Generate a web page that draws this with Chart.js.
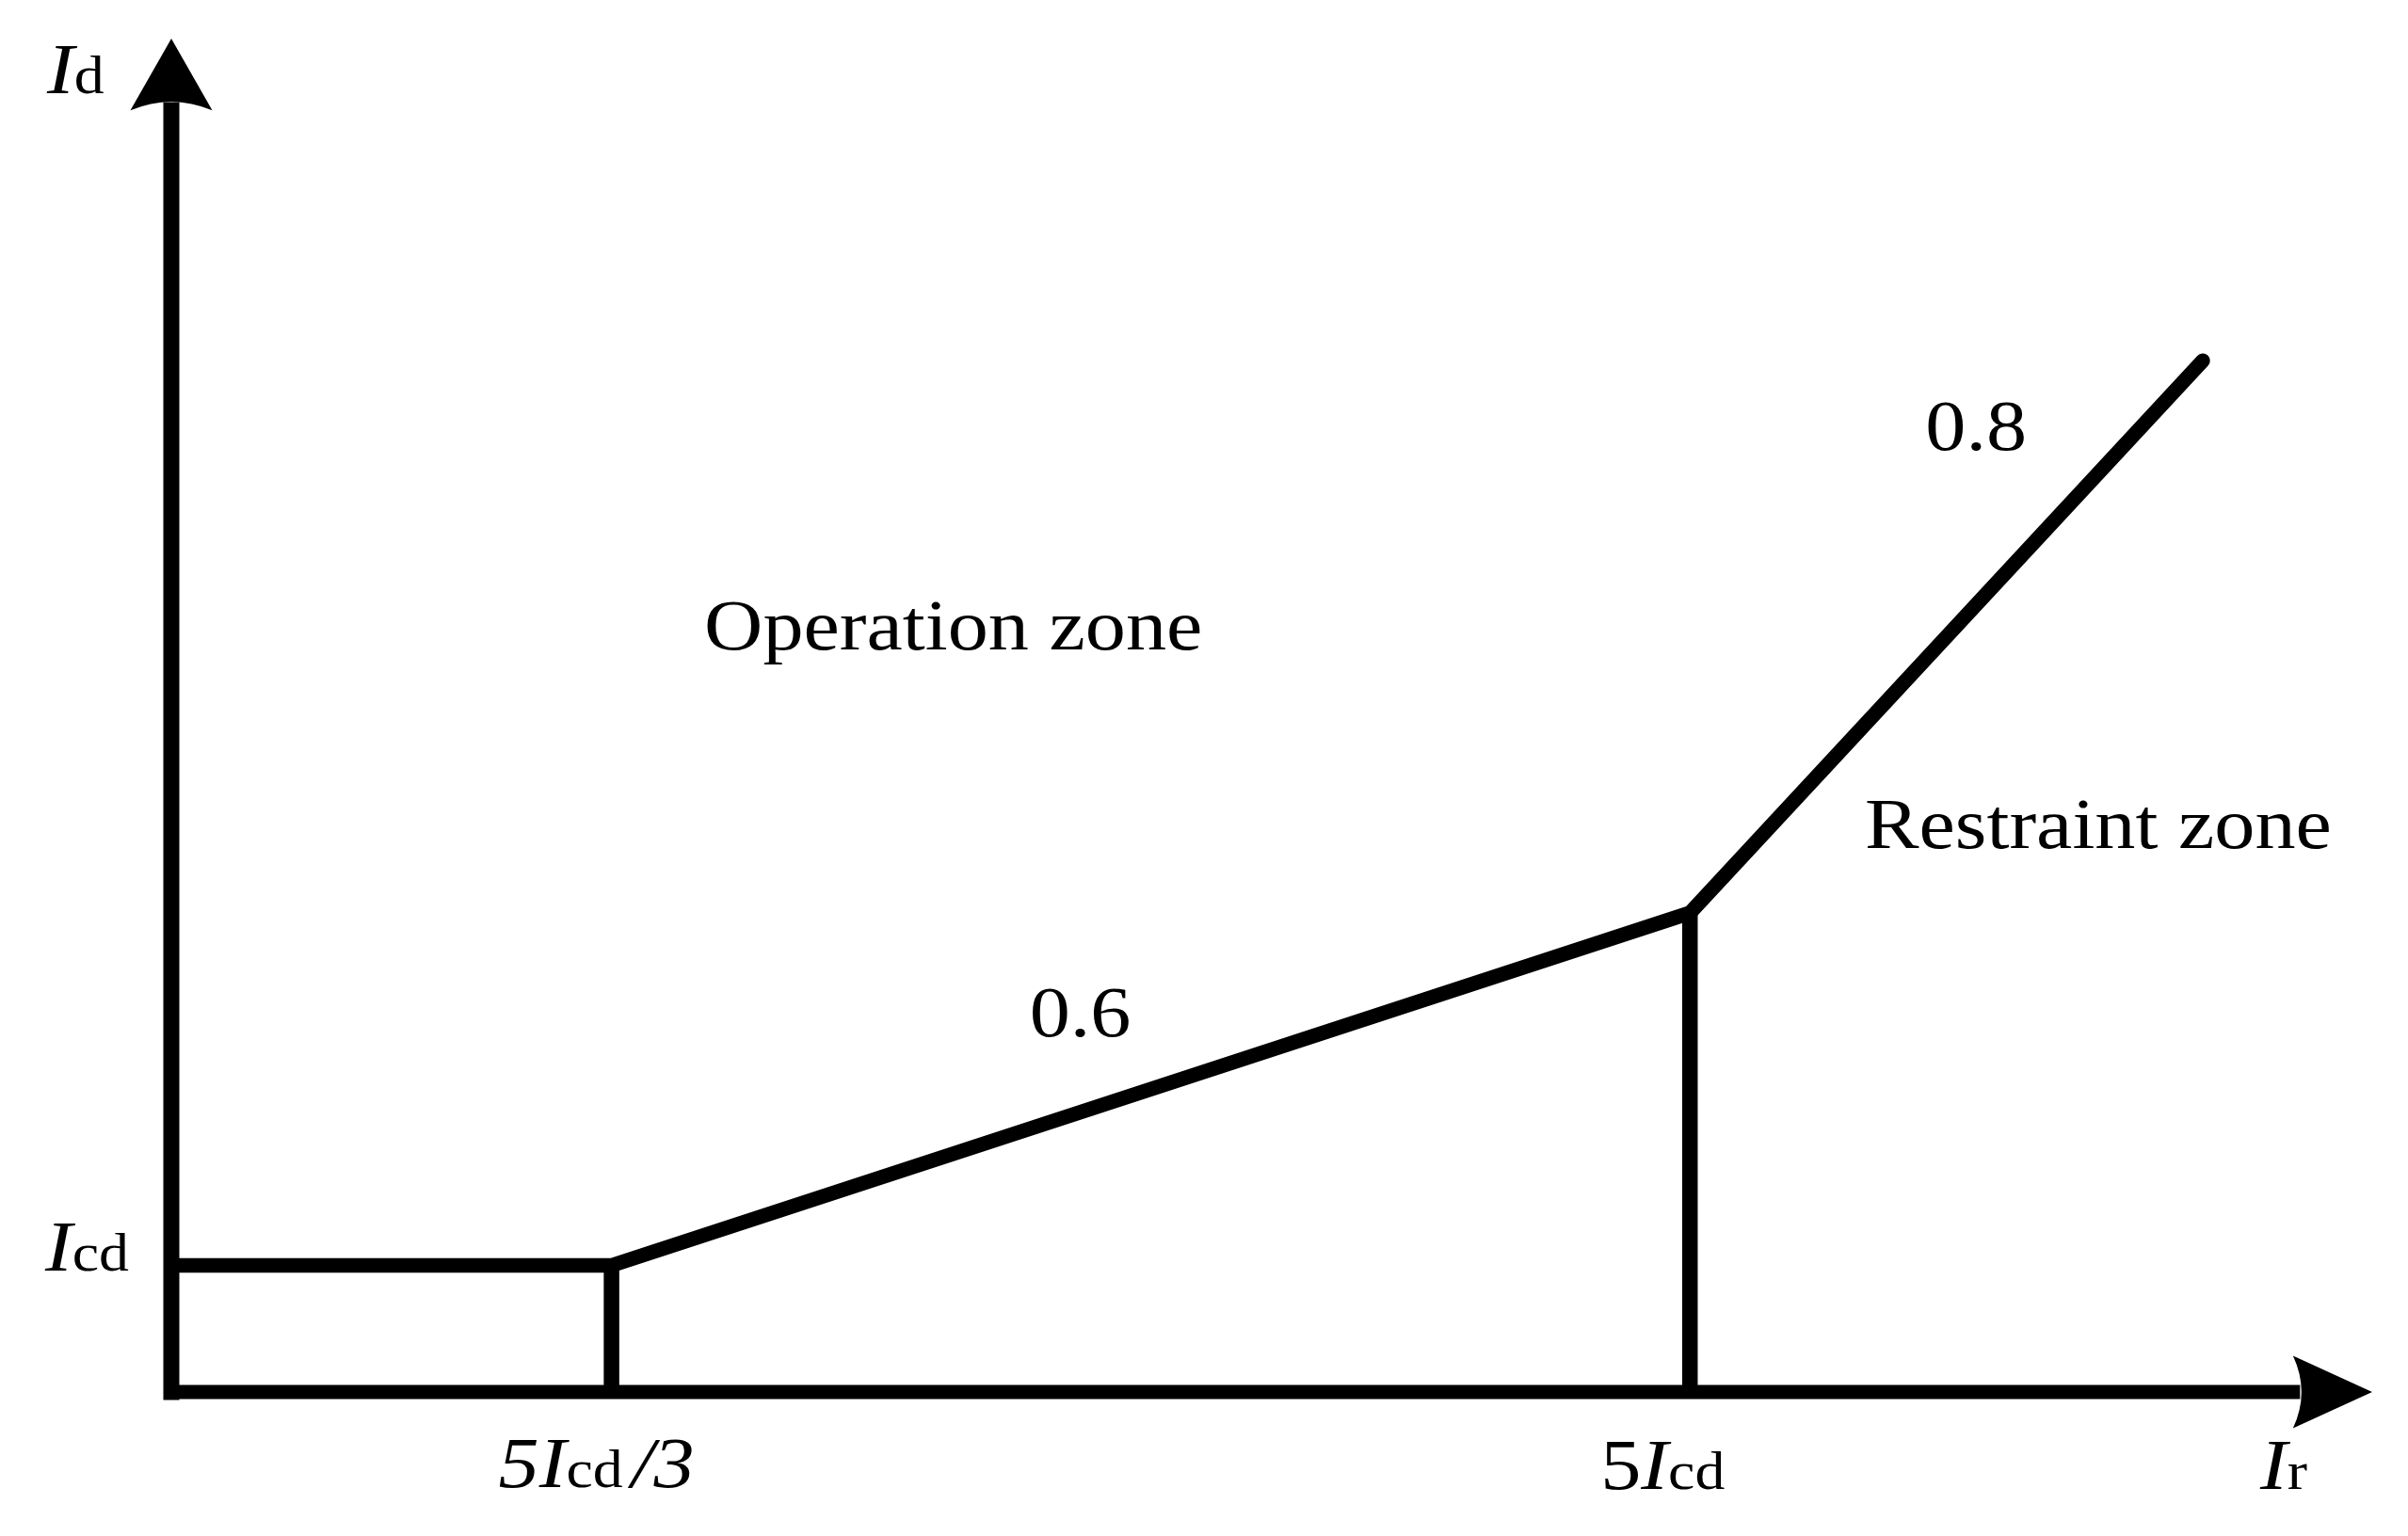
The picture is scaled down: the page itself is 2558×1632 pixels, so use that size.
<!DOCTYPE html>
<html><head><meta charset="utf-8">
<script src="https://cdn.jsdelivr.net/npm/chart.js@4/dist/chart.umd.min.js"></script>
<style>html,body{margin:0;padding:0;background:#fff;overflow:hidden}canvas{display:block}</style>
</head><body>
<canvas id="c" width="2558" height="1632" style="width:2558px;height:1632px"></canvas>
<script>
// ---- data (schematic axis units: 0 = origin, 100 = arrow tip) ----
const charX = [0, 20, 69, 92.3];          // characteristic break points (Ir)
const charY = [9.35, 9.35, 35.4, 76.2];   // characteristic values (Id)
const dropX = [20, 69];                   // vertical drop lines at 5Icd/3 and 5Icd
const dropY = [9.35, 35.4];
const axisMax = 100;
const xShaftEnd = 96.4;
const yShaftEnd = 94.7;
const slopeLabels = ['0.6', '0.8'];
const zoneLabels = ['Operation zone', 'Restraint zone'];
const xTickLabels = ['5Icd/3', '5Icd'];
const yTickLabels = ['Icd'];
const axisTitles = ['Ir', 'Id'];

const FONT = '"Liberation Serif", "Times New Roman", serif';
const BIG = 77, SUB = 57, STRETCH = 1.12;

function pts(xs, ys) { return xs.map((x, i) => ({ x: x, y: ys[i] })); }

function drawRuns(ctx, runs, x, y) {
  ctx.save();
  ctx.translate(x, y);
  ctx.scale(STRETCH, 1);
  ctx.fillStyle = '#000';
  ctx.textBaseline = 'alphabetic';
  ctx.textAlign = 'left';
  let cx = 0;
  runs.forEach(r => {
    ctx.font = (r.i ? 'italic ' : '') + r.s + 'px ' + FONT;
    ctx.fillText(r.t, cx, 0);
    cx += ctx.measureText(r.t).width + (r.gap || 0);
  });
  ctx.restore();
}

function drawCentered(ctx, text, x, y) {
  ctx.save();
  ctx.translate(x, y);
  ctx.scale(STRETCH, 1);
  ctx.fillStyle = '#000';
  ctx.textBaseline = 'alphabetic';
  ctx.textAlign = 'center';
  ctx.font = BIG + 'px ' + FONT;
  ctx.fillText(text, 0, 0);
  ctx.restore();
}

const arrowPlugin = {
  id: 'arrows',
  afterDatasetsDraw(chart) {
    const ctx = chart.ctx, xs = chart.scales.x, ys = chart.scales.y;
    const x0 = xs.getPixelForValue(0), y0 = ys.getPixelForValue(0);
    ctx.save();
    ctx.fillStyle = '#000';
    const yt = ys.getPixelForValue(axisMax), yb = ys.getPixelForValue(yShaftEnd);
    ctx.beginPath();
    ctx.moveTo(x0, yt);
    ctx.lineTo(x0 + 43.5, yb);
    ctx.quadraticCurveTo(x0, yb - 18, x0 - 43.5, yb);
    ctx.closePath();
    ctx.fill();
    const xt = xs.getPixelForValue(axisMax), xb = xs.getPixelForValue(xShaftEnd);
    ctx.beginPath();
    ctx.moveTo(xt, y0);
    ctx.lineTo(xb, y0 + 38.5);
    ctx.quadraticCurveTo(xb + 18, y0, xb, y0 - 38.5);
    ctx.closePath();
    ctx.fill();
    ctx.restore();
  }
};

const textPlugin = {
  id: 'texts',
  afterDraw(chart) {
    const ctx = chart.ctx, xs = chart.scales.x, ys = chart.scales.y;
    const px = v => xs.getPixelForValue(v), py = v => ys.getPixelForValue(v);
    drawRuns(ctx, [{ t: axisTitles[1][0], i: true, s: BIG }, { t: axisTitles[1].slice(1), s: SUB }], px(0) - 132, py(axisMax) + 58);
    drawRuns(ctx, [{ t: axisTitles[0][0], i: true, s: BIG }, { t: axisTitles[0].slice(1), s: SUB }], px(axisMax) - 119, py(0) + 103);
    drawRuns(ctx, [{ t: yTickLabels[0][0], i: true, s: BIG }, { t: yTickLabels[0].slice(1), s: SUB }], px(0) - 134, py(charY[0]) + 5);
    drawRuns(ctx, [{ t: '5', i: true, s: BIG }, { t: 'I', i: true, s: BIG }, { t: 'cd', s: SUB, gap: 8 }, { t: '/3', i: true, s: BIG }], px(dropX[0]) - 120, py(0) + 101);
    drawRuns(ctx, [{ t: '5', s: BIG }, { t: 'I', i: true, s: BIG }, { t: 'cd', s: SUB }], px(dropX[1]) - 95, py(0) + 103);
    drawCentered(ctx, zoneLabels[0], px(35.53), py(54.87));
    drawCentered(ctx, zoneLabels[1], px(87.55), py(40.19));
    drawCentered(ctx, slopeLabels[0], px(41.3), py(26.29));
    drawCentered(ctx, slopeLabels[1], px(82.0), py(69.61));
  }
};

new Chart(document.getElementById('c'), {
  type: 'line',
  data: {
    datasets: [
      { data: [{ x: 0, y: 0 }, { x: 0, y: yShaftEnd }], borderColor: '#000', borderWidth: 17, borderCapStyle: 'square' },
      { data: [{ x: 0, y: 0 }, { x: xShaftEnd, y: 0 }], borderColor: '#000', borderWidth: 15, borderCapStyle: 'square' },
      { data: [{ x: dropX[0], y: 0 }, { x: dropX[0], y: dropY[0] }], borderColor: '#000', borderWidth: 16.5 },
      { data: [{ x: dropX[1], y: 0 }, { x: dropX[1], y: dropY[1] }], borderColor: '#000', borderWidth: 16.5 },
      { data: pts(charX, charY), borderColor: '#000', borderWidth: 15.5, borderCapStyle: 'round', borderJoinStyle: 'miter' }
    ]
  },
  options: {
    responsive: false,
    devicePixelRatio: 1,
    animation: false,
    layout: { padding: { left: 182, right: 38, top: 41, bottom: 153 } },
    elements: { point: { radius: 0, hoverRadius: 0 }, line: { tension: 0, fill: false } },
    datasets: { line: { clip: false } },
    plugins: { legend: { display: false }, tooltip: { enabled: false }, title: { display: false } },
    scales: {
      x: { type: 'linear', min: 0, max: axisMax, display: false },
      y: { type: 'linear', min: 0, max: axisMax, display: false }
    }
  },
  plugins: [arrowPlugin, textPlugin]
});
</script>
</body></html>
